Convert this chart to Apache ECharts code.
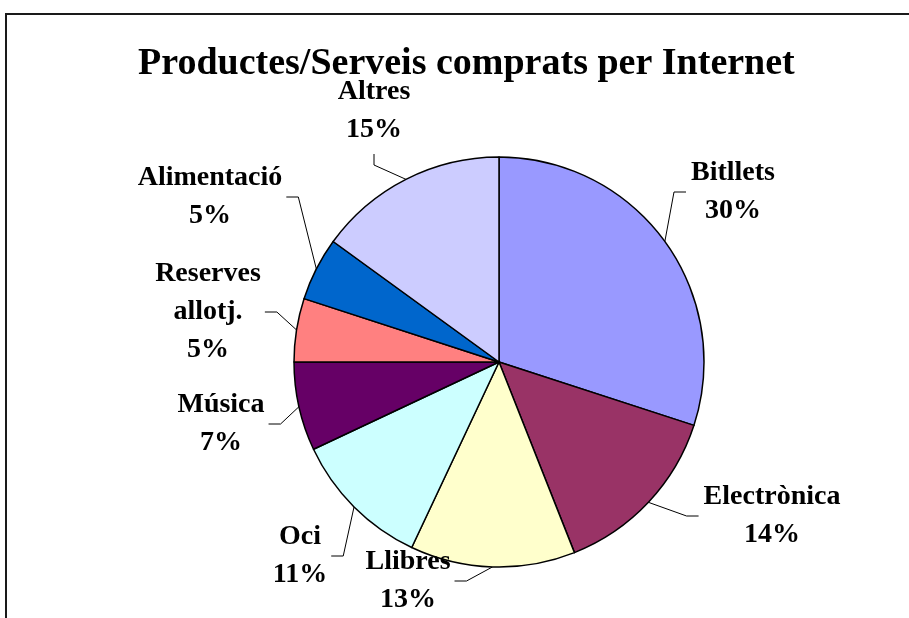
<!DOCTYPE html>
<html>
<head>
<meta charset="utf-8">
<script src="https://cdn.jsdelivr.net/npm/echarts@6/dist/echarts.min.js"></script>
<style>
  html, body { margin: 0; padding: 0; background: #fff; }
  #chart { width: 909px; height: 618px; }
</style>
</head>
<body>
<div id="chart"></div>
<script>
// Products and services bought online (share of purchases, %)
const categories = ['Bitllets', 'Electrònica', 'Llibres', 'Oci', 'Música', 'Reserves allotj.', 'Alimentació', 'Altres'];
const shares = [30, 14, 13, 11, 7, 5, 5, 15];
const sliceColors = ['#9999FF', '#993366', '#FFFFCC', '#CCFFFF', '#660066', '#FF8080', '#0066CC', '#CCCCFF'];

// Layout: pie geometry and the centre of each label block
const PIE_CX = 499, PIE_CY = 362, PIE_R = 205;
const labelCentres = [
  [733, 192], [772, 516], [408, 581], [300, 556],
  [221, 424], [208, 312], [210, 197], [374, 111]
];

const FONT = "'Liberation Serif', 'DejaVu Serif', serif";

const chart = echarts.init(document.getElementById('chart'), null, { renderer: 'canvas' });

chart.setOption({
  backgroundColor: '#ffffff',
  animation: false,
  title: {
    text: 'Productes/Serveis comprats per Internet',
    left: 138,
    top: 45,
    padding: 0,
    textStyle: { fontFamily: FONT, fontWeight: 'bold', fontSize: 38, color: '#000' }
  },
  graphic: [{
    type: 'polyline',
    shape: { points: [[6, 640], [6, 14], [930, 14]] },
    style: { stroke: '#1a1a1a', lineWidth: 2, fill: null },
    silent: true
  }],
  series: [{
    type: 'pie',
    center: [PIE_CX, PIE_CY],
    radius: PIE_R,
    startAngle: 90,
    clockwise: true,
    avoidLabelOverlap: false,
    minShowLabelAngle: 0,
    data: categories.map((name, i) => ({
      name: name,
      value: shares[i],
      itemStyle: { color: sliceColors[i] }
    })),
    itemStyle: { borderColor: '#000', borderWidth: 1.5 },
    label: {
      show: true,
      position: 'outside',
      formatter: p => p.name.replace(' ', '\n') + '\n' + p.value + '%',
      fontFamily: FONT,
      fontWeight: 'bold',
      fontSize: 28,
      lineHeight: 38,
      color: '#000',
      align: 'center'
    },
    labelLine: {
      show: true,
      length: 10,
      length2: 10,
      smooth: false,
      lineStyle: { color: '#000', width: 1 }
    },
    labelLayout: function (params) {
      const c = labelCentres[params.dataIndex];
      const w = params.labelRect.width, h = params.labelRect.height;
      const start = params.labelLinePoints ? params.labelLinePoints[0] : [PIE_CX, PIE_CY];
      let elbow, end;
      if (c[1] + h / 2 < PIE_CY - PIE_R) {
        // label sitting above the pie: connect to its bottom edge
        end = [c[0], c[1] + h / 2 + 5];
        elbow = [c[0], end[1] + 11];
      } else if (c[0] > PIE_CX) {
        end = [c[0] - w / 2 - 5, c[1]];
        elbow = [end[0] - 12, c[1]];
      } else {
        end = [c[0] + w / 2 + 4, c[1]];
        elbow = [end[0] + 12, c[1]];
      }
      return {
        x: c[0],
        y: c[1],
        align: 'center',
        verticalAlign: 'middle',
        labelLinePoints: [start, elbow, end]
      };
    },
    emphasis: { disabled: true }
  }]
});
</script>
</body>
</html>
